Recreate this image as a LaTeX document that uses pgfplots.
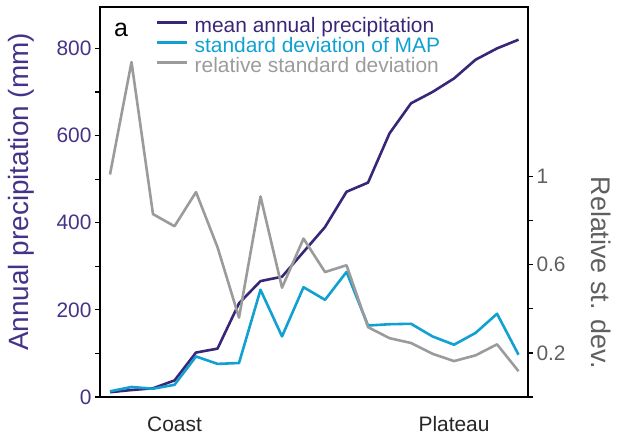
\documentclass[border=0pt]{standalone}
\usepackage{pgfplots}
\pgfplotsset{compat=1.18}
\usepackage{pgfplotstable}
\usepackage{fontspec}
\setmainfont{Liberation Sans}
\definecolor{mapc}{RGB}{58,38,120}
\definecolor{maplab}{RGB}{70,50,135}
\definecolor{sdc}{RGB}{16,160,210}
\definecolor{rsdc}{RGB}{155,155,155}
\definecolor{rsdlab}{RGB}{95,95,95}
\pgfplotstableread{
i map sd rsd
0 11 13 1.01
1 16 23 1.52
2 20 19 0.83
3 38 28 0.775
4 102 93 0.93
5 111 76 0.68
6 215 78 0.36
7 266 246 0.91
8 276 139 0.496
9 333 252 0.719
10 390 223 0.567
11 471 287 0.598
12 492 164 0.317
13 605 167 0.267
14 674 168 0.245
15 700 139 0.196
16 731 120 0.163
17 774 147 0.189
18 800 191 0.239
19 820 97 0.117
}\datatable
\begin{document}
\begin{tikzpicture}
\begin{axis}[
  scale only axis, width=428bp, height=390bp,
  xmin=-0.465, xmax=19.44, ymin=0, ymax=895,
  axis line style={line width=2.2bp, black},
  ytick={0,200,400,600,800}, minor ytick={100,300,500,700},
  ytick pos=left, tick align=outside,
  major tick length=5bp, minor tick length=5bp,
  every tick/.style={line width=1.2bp, black},
  every minor tick/.style={line width=1.2bp, black},
  xtick=\empty,
  extra x ticks={3,16}, extra x tick labels={Coast,Plateau},
  extra x tick style={major tick length=0pt, xticklabel style={font=\fontsize{21}{21}\selectfont, text=black!85, yshift=-16bp}},
  /pgf/number format/assume math mode=true,
  yticklabel style={font=\fontsize{21}{21}\selectfont, text=maplab},
  ylabel={Annual precipitation (mm)},
  ylabel style={font=\fontsize{28}{28}\selectfont, text=maplab, at={(axis description cs:-0.185,0.526)}, anchor=center},
  legend style={at={(axis description cs:0.131,0.972)}, anchor=north west, draw=none, fill=none, inner sep=0pt, outer sep=0pt, row sep=0pt, font=\fontsize{21}{21}\selectfont, nodes={inner sep=0pt, text height=15bp, text depth=5bp}, /tikz/every odd column/.append style={column sep=6bp}},
  legend cell align=left,
  legend image code/.code={\draw[#1, line width=2.6bp] (0bp,5.5bp) -- (30bp,5.5bp);},
]
\coordinate (bl) at (rel axis cs:0,0);
\addplot[mapc, line width=2.6bp, line join=round] table[x=i, y=map] {\datatable};
\addlegendentry{\textcolor{mapc}{mean annual precipitation}}
\addplot[sdc, line width=2.6bp, line join=round] table[x=i, y=sd] {\datatable};
\addlegendentry{\textcolor{sdc}{standard deviation of MAP}}
\addlegendimage{rsdc, line width=2.6bp}
\addlegendentry{\textcolor{rsdc}{relative standard deviation}}
\node[font=\fontsize{25}{25}\selectfont, anchor=center] at (axis description cs:0.049,0.941) {a};
\end{axis}
\begin{axis}[
  scale only axis, width=428bp, height=390bp,
  xmin=-0.465, xmax=19.44, ymin=0, ymax=1.77,
  hide x axis, axis y line*=right,
  axis line style={line width=2.2bp, black},
  ytick={0,0.2,0.4,0.6,0.8,1}, yticklabels={,0.2,,0.6,,1},
  tick align=outside, major tick length=5bp,
  every tick/.style={line width=1.2bp, black},
  yticklabel style={font=\fontsize{21}{21}\selectfont, text=rsdlab},
  ylabel={Relative st. dev.},
  ylabel style={font=\fontsize{27}{27}\selectfont, text=rsdlab, at={(axis description cs:1.1706,0.319)}, anchor=center, rotate=180},
]
\addplot[rsdc, line width=2.6bp, line join=round] table[x=i, y=rsd] {\datatable};
\end{axis}
\pgfresetboundingbox
\path[use as bounding box] ([shift={(-100bp,-44bp)}]bl) rectangle ([shift={(518bp,397bp)}]bl);
\end{tikzpicture}
\end{document}
